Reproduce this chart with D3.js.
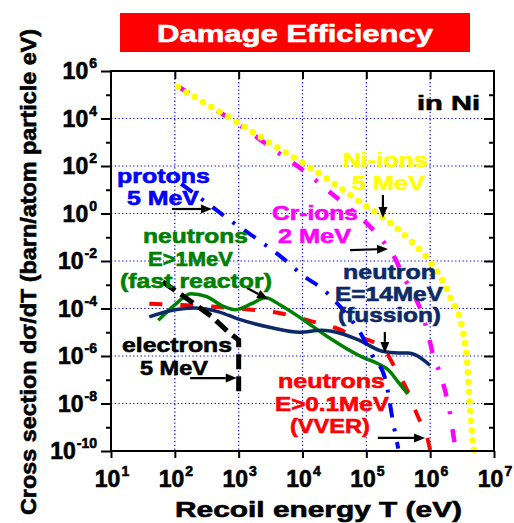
<!DOCTYPE html>
<html>
<head>
<meta charset="utf-8">
<script src="https://cdn.jsdelivr.net/npm/d3@7"></script>
<style>
  body { margin: 0; background: #fff; }
  svg { display: block; }
  text { font-family: "Liberation Sans", Arial, sans-serif; font-weight: bold; stroke-width: 0.6; }
</style>
</head>
<body>
<svg id="chart" width="514" height="523"></svg>
<script>
// Recoil spectra in Ni: each point is [log10(T / eV), log10(dσ/dT)]
const niIons5MeV = [
  [2.05, 5.33], [2.5, 4.6], [3.0, 3.8], [3.5, 2.95], [4.0, 2.13], [4.5, 1.25],
  [4.9, 0.48], [5.25, -0.15], [5.65, -1.03], [6.0, -2.04], [6.19, -2.8],
  [6.31, -3.5], [6.5, -4.8], [6.58, -6.3], [6.62, -8.0], [6.67, -9.66], [6.69, -10]
];
const crIons2MeV = [
  [2.05, 5.35], [2.5, 4.6], [3.0, 3.75], [3.6, 2.6], [4.07, 1.7], [4.35, 1.07],
  [4.7, 0.3], [5.0, -0.4], [5.21, -1.0], [5.47, -2.0], [5.57, -2.6], [5.77, -3.55],
  [5.87, -4.2], [5.97, -5.1], [6.05, -6.0], [6.15, -6.7], [6.31, -8.4], [6.39, -9.75], [6.41, -10]
];
const protons5MeV = [
  [2.1, 1.25], [2.5, 0.45], [2.9, -0.35], [3.3, -1.1], [3.7, -1.9], [4.0, -2.6],
  [4.3, -3.15], [4.6, -3.95], [4.9, -5.0], [5.1, -6.0], [5.3, -7.0], [5.42, -8.8], [5.5, -9.9]
];
const neutronsFast = [
  [1.74, -4.5], [2.0, -3.85], [2.25, -3.38], [2.5, -3.5], [2.75, -3.9], [2.95, -4.05],
  [3.2, -3.8], [3.42, -3.55], [3.65, -3.85], [4.0, -4.45], [4.4, -5.2], [4.9, -6.0],
  [5.2, -6.35], [5.35, -6.6], [5.5, -7.1], [5.65, -7.6]
];
const neutrons14MeV = [
  [1.6, -4.35], [2.0, -4.05], [2.3, -3.98], [2.7, -4.15], [3.0, -4.45], [3.5, -4.8],
  [3.96, -5.0], [4.3, -4.92], [4.6, -5.05], [4.9, -5.35], [5.25, -5.8], [5.5, -5.87],
  [5.65, -5.87], [6.0, -6.4]
];
const neutronsVVER = [
  [1.6, -3.8], [2.1, -3.85], [2.75, -3.95], [3.2, -4.05], [3.65, -4.2], [4.16, -4.55],
  [4.5, -4.8], [4.85, -5.2], [5.1, -5.4], [5.3, -5.8], [5.45, -6.5], [5.65, -7.5],
  [5.8, -8.5], [5.97, -9.6], [6.0, -9.95]
];
const electrons5MeV = [
  [1.81, -2.88], [2.22, -3.64], [2.57, -4.32], [2.82, -4.95], [3.0, -5.33], [3.0, -7.65]
];

// Axis decades
const xTickExps = [1, 2, 3, 4, 5, 6, 7];
const yMajorExps = [6, 4, 2, 0, -2, -4, -6, -8, -10];
const yMinorExps = [5, 3, 1, -1, -3, -5, -7, -9];

const svg = d3.select("#chart");
const margin = { left: 111, right: 20, top: 71, bottom: 72 };
const W = 514, H = 523;
const x = d3.scaleLog().domain([1e1, 1e7]).range([margin.left, W - margin.right]);
const y = d3.scaleLog().domain([1e-10, 1e6]).range([H - margin.bottom, margin.top]);
const px = e => x(Math.pow(10, e));
const py = e => y(Math.pow(10, e));
const x0 = x.range()[0], x1 = x.range()[1], yTop = y.range()[1], yBot = y.range()[0];

// Title banner
svg.append("rect").attr("x", 120).attr("y", 13).attr("width", 350).attr("height", 39).attr("fill", "#ff0000");
svg.append("text").attr("x", 157).attr("y", 42).attr("font-size", 23).attr("fill", "#fff").attr("stroke", "#fff")
  .attr("textLength", 276).attr("lengthAdjust", "spacingAndGlyphs").text("Damage Efficiency");

// Dotted grid
const grid = svg.append("g").attr("stroke", "#0000ff").attr("stroke-width", 1.2).attr("stroke-dasharray", "1.3 2.4");
grid.selectAll("line.v").data(xTickExps.slice(1, -1)).join("line")
  .attr("x1", d => px(d)).attr("x2", d => px(d)).attr("y1", yTop).attr("y2", yBot);
grid.selectAll("line.h").data(yMajorExps.slice(1, -1)).join("line")
  .attr("y1", d => py(d)).attr("y2", d => py(d)).attr("x1", x0).attr("x2", x1);

// Axes
const tickVals = exps => exps.map(e => Math.pow(10, e));
function styleAxis(g) {
  g.select(".domain").remove();
  g.selectAll(".tick line").attr("stroke", "#000").attr("stroke-width", 2);
  g.selectAll(".tick text").remove();
}
svg.append("g").attr("transform", `translate(0,${yBot})`)
  .call(d3.axisBottom(x).tickValues(tickVals(xTickExps)).tickSize(7)).call(styleAxis);
svg.append("g").attr("transform", `translate(0,${yTop})`)
  .call(d3.axisTop(x).tickValues(tickVals(xTickExps.slice(1, -1))).tickSize(-8)).call(styleAxis);
svg.append("g").attr("transform", `translate(${x0},0)`)
  .call(d3.axisLeft(y).tickValues(tickVals(yMajorExps)).tickSize(10)).call(styleAxis);
svg.append("g").attr("transform", `translate(${x0},0)`)
  .call(d3.axisLeft(y).tickValues(tickVals(yMinorExps)).tickSize(5)).call(styleAxis);
svg.append("g").attr("transform", `translate(${x1},0)`)
  .call(d3.axisRight(y).tickValues(tickVals(yMajorExps.slice(1, -1))).tickSize(-10)).call(styleAxis);
svg.append("g").attr("transform", `translate(${x1},0)`)
  .call(d3.axisRight(y).tickValues(tickVals(yMinorExps)).tickSize(-5)).call(styleAxis);

// Power-of-ten tick labels
svg.append("g").attr("fill", "#000").attr("stroke", "#000").selectAll("text").data(xTickExps).join("text")
  .attr("x", d => px(d) + 1).attr("y", 487).attr("text-anchor", "middle").attr("font-size", 23)
  .each(function (d) {
    const t = d3.select(this);
    t.append("tspan").text("10");
    t.append("tspan").attr("dx", 1).attr("dy", -11).attr("font-size", 14).text(d);
  });
svg.append("g").attr("fill", "#000").attr("stroke", "#000").selectAll("text").data(yMajorExps).join("text")
  .attr("x", 97).attr("y", d => py(d) + 8).attr("text-anchor", "end").attr("font-size", 23)
  .each(function (d) {
    const t = d3.select(this);
    t.append("tspan").text("10");
    t.append("tspan").attr("dx", 1).attr("dy", -11).attr("font-size", 14).text(d);
  });

// Axis titles
svg.append("text").attr("x", 175).attr("y", 517).attr("font-size", 22).attr("stroke", "#000")
  .attr("textLength", 287).attr("lengthAdjust", "spacingAndGlyphs").text("Recoil energy T (eV)");
svg.append("text").attr("transform", "translate(36,515) rotate(-90)").attr("font-size", 22).attr("stroke", "#000")
  .attr("textLength", 486).attr("lengthAdjust", "spacingAndGlyphs")
  .text("Cross section dσ/dT (barn/atom particle eV)");

// Spectra
const smooth = d3.line().x(d => px(d[0])).y(d => py(d[1])).curve(d3.curveMonotoneX);
const straight = d3.line().x(d => px(d[0])).y(d => py(d[1]));
const curves = svg.append("g").attr("fill", "none");
curves.append("path").attr("d", smooth(neutronsVVER)).attr("stroke", "#ff0000")
  .attr("stroke-width", 4).attr("stroke-dasharray", "13 18");
curves.append("path").attr("d", smooth(neutronsFast)).attr("stroke", "#008000").attr("stroke-width", 3.5);
curves.append("path").attr("d", smooth(neutrons14MeV)).attr("stroke", "#0c2a68").attr("stroke-width", 3.5);
curves.append("path").attr("d", smooth(protons5MeV)).attr("stroke", "#0000ff")
  .attr("stroke-width", 4).attr("stroke-dasharray", "14 11 3 11");
curves.append("path").attr("d", smooth(crIons2MeV)).attr("stroke", "#ff00ff")
  .attr("stroke-width", 4.5).attr("stroke-dasharray", "13 15 3 15");
curves.append("path").attr("d", smooth(niIons5MeV)).attr("stroke", "#ffff00")
  .attr("stroke-width", 6.5).attr("stroke-linecap", "round").attr("stroke-dasharray", "0 9.7");
curves.append("path").attr("d", straight(electrons5MeV)).attr("stroke", "#000")
  .attr("stroke-width", 5).attr("stroke-dasharray", "15 7");

// Plot frame
svg.append("rect").attr("x", x0).attr("y", yTop).attr("width", x1 - x0).attr("height", yBot - yTop)
  .attr("fill", "none").attr("stroke", "#000").attr("stroke-width", 2);

// Pointer arrows, [log10 T, log10 σ] from -> to
const arrows = [
  [[1.956, 0.19], [2.582, 0.19]],
  [[5.26, 0.78], [5.26, -0.19]],
  [[4.744, -1.54], [5.34, -1.49]],
  [[3.13, -3.14], [3.46, -3.6]],
  [[2.24, -6.93], [2.97, -6.93]],
  [[5.29, -4.99], [5.29, -5.87]],
  [[5.18, -9.45], [5.92, -9.45]]
];
const arrowG = svg.append("g");
arrows.forEach(([a, b]) => {
  const xa = px(a[0]), ya = py(a[1]), xb = px(b[0]), yb = py(b[1]);
  const ang = Math.atan2(yb - ya, xb - xa), L = 11, Wd = 4.5;
  const bx = xb - L * Math.cos(ang), by = yb - L * Math.sin(ang);
  arrowG.append("line").attr("x1", xa).attr("y1", ya).attr("x2", bx).attr("y2", by)
    .attr("stroke", "#000").attr("stroke-width", 2.2);
  arrowG.append("path").attr("fill", "#000").attr("d",
    `M${xb},${yb}L${bx - Wd * Math.sin(ang)},${by + Wd * Math.cos(ang)}L${bx + Wd * Math.sin(ang)},${by - Wd * Math.cos(ang)}Z`);
});

// Series labels: text, colour, left x, baseline, width
const labels = [
  ["in Ni", "#000", 417, 110, 63],
  ["protons", "#0000ff", 117, 183, 93],
  ["5 MeV", "#0000ff", 127, 205, 72],
  ["Ni-ions", "#ffff00", 343, 167, 85],
  ["5 MeV", "#ffff00", 352, 190, 73],
  ["Cr-ions", "#ff00ff", 272, 220, 86],
  ["2 MeV", "#ff00ff", 278, 243, 73],
  ["neutrons", "#008000", 143, 243, 105],
  ["E>1MeV", "#008000", 148, 266, 85],
  ["(fast reactor)", "#008000", 120, 288, 152],
  ["neutron", "#0c2a68", 343, 279, 93],
  ["E=14MeV", "#0c2a68", 335, 301, 108],
  ["(fussion)", "#0c2a68", 338, 322, 103],
  ["electrons", "#000", 122, 352, 110],
  ["5 MeV", "#000", 140, 375, 68],
  ["neutrons", "#ff0000", 278, 388, 107],
  ["E>0.1MeV", "#ff0000", 275, 411, 114],
  ["(VVER)", "#ff0000", 290, 433, 80]
];
svg.append("g").selectAll("text").data(labels).join("text")
  .attr("x", d => d[2]).attr("y", d => d[3]).attr("fill", d => d[1]).attr("stroke", d => d[1])
  .attr("font-size", 20)
  .attr("textLength", d => d[4]).attr("lengthAdjust", "spacingAndGlyphs").text(d => d[0]);
</script>
</body>
</html>
